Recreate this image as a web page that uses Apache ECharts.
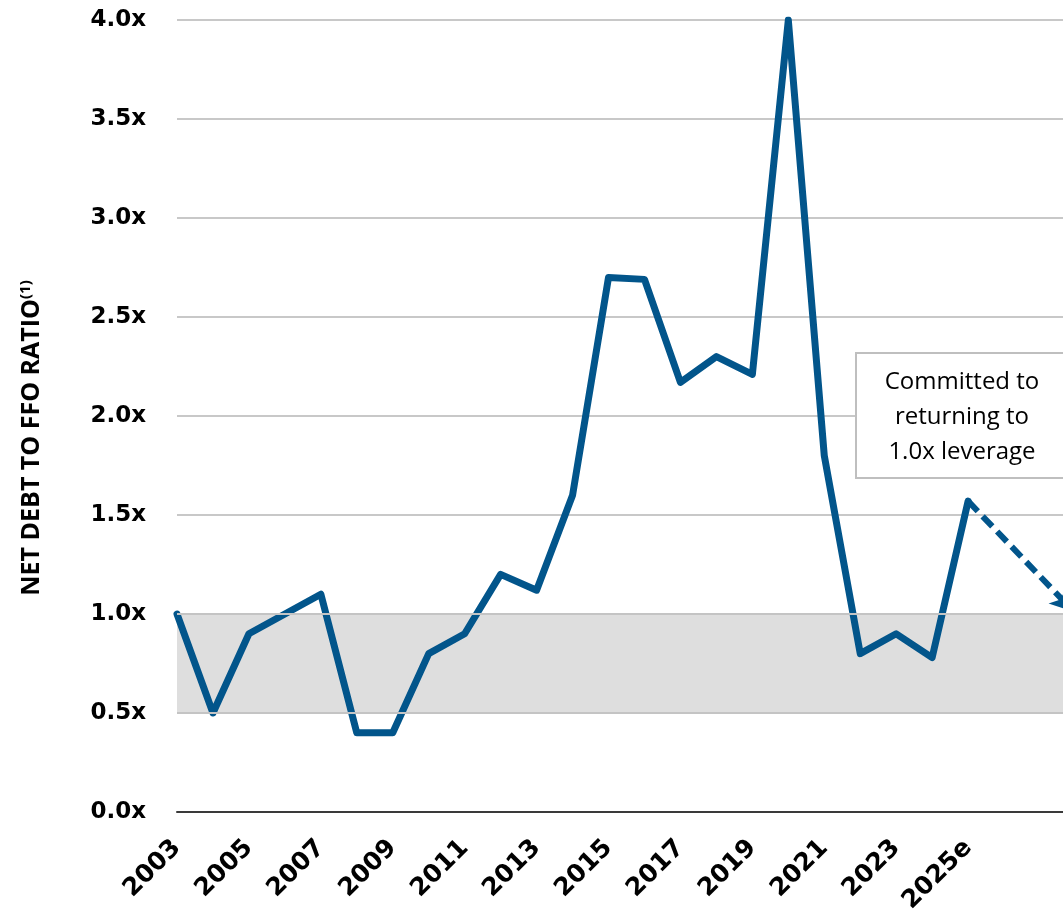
<!DOCTYPE html>
<html>
<head>
<meta charset="utf-8">
<script src="https://cdn.jsdelivr.net/npm/echarts@6/dist/echarts.min.js"></script>
<style>
  html, body { margin: 0; padding: 0; background: #fff; }
  #chart { width: 1063px; height: 910px; }
</style>
</head>
<body>
<div id="chart"></div>
<script>
// years on the x axis (the last three are the projection, unlabelled)
var years = ['2003', '2004', '2005', '2006', '2007', '2008', '2009', '2010', '2011', '2012',
  '2013', '2014', '2015', '2016', '2017', '2018', '2019', '2020', '2021', '2022',
  '2023', '2024', '2025e', '2026e', '2027e', '2028e'];
// net debt / FFO, actual + 2025e
var ratio = [1.0, 0.5, 0.9, 1.0, 1.1, 0.4, 0.4, 0.8, 0.9, 1.2,
  1.12, 1.6, 2.7, 2.69, 2.17, 2.3, 2.21, 4.0, 1.8, 0.8,
  0.9, 0.78, 1.57, null, null, null];
// dashed target path, 2025e -> 1.0x
var target = [null, null, null, null, null, null, null, null, null, null,
  null, null, null, null, null, null, null, null, null, null,
  null, null, 1.57, null, null, 1.0];
var yTicks = [0, 0.5, 1.0, 1.5, 2.0, 2.5, 3.0, 3.5, 4.0];
var band = [0.5, 1.0];
var lastLabelled = '2025e';

var blue = '#02558B';
var labelFont = 'DejaVu Sans';
var lastIdx = target.length - 1;

var chart = echarts.init(document.getElementById('chart'));

var option = {
  animation: false,
  grid: { left: 177, top: 20, height: 792, width: 899, containLabel: false, outerBoundsMode: 'none' },
  xAxis: {
    type: 'category',
    data: years,
    boundaryGap: false,
    axisLine: { lineStyle: { color: '#3a3a3a', width: 2 } },
    axisTick: { show: false },
    axisLabel: {
      rotate: 45,
      margin: 32,
      color: '#000',
      fontFamily: labelFont,
      fontWeight: 'bold',
      fontSize: 25,
      interval: function (idx) {
        return idx % 2 === 0 && idx <= years.indexOf(lastLabelled);
      }
    },
    splitLine: { show: false }
  },
  yAxis: {
    type: 'value',
    min: yTicks[0],
    max: yTicks[yTicks.length - 1],
    interval: 0.5,
    axisLine: { show: false },
    axisTick: { show: false },
    axisLabel: {
      margin: 31,
      color: '#000',
      fontFamily: labelFont,
      fontWeight: 'bold',
      fontSize: 23,
      formatter: function (v) { return v.toFixed(1) + 'x'; }
    },
    splitLine: { lineStyle: { color: '#c8c8c8', width: 2 } }
  },
  series: [
    {
      type: 'line',
      data: ratio,
      symbol: 'none',
      z: 3,
      lineStyle: { color: blue, width: 7, cap: 'round', join: 'round' },
      markArea: {
        silent: true,
        itemStyle: { color: '#dedede' },
        data: [[{ yAxis: band[0] }, { yAxis: band[1] }]]
      },
      markLine: {
        silent: true,
        symbol: 'none',
        label: { show: false },
        lineStyle: { color: '#c4c4c4', width: 2, type: 'solid' },
        data: band.map(function (b) { return { yAxis: b }; })
      }
    },
    {
      type: 'line',
      data: target,
      connectNulls: true,
      clip: false,
      showSymbol: true,
      showAllSymbol: true,
      symbol: function (v, p) { return p.dataIndex === lastIdx ? 'arrow' : 'none'; },
      symbolSize: [18, 24],
      symbolRotate: -135,
      symbolOffset: [-2, -2],
      z: 3,
      itemStyle: { color: blue },
      lineStyle: { color: blue, width: 6, type: [14, 7] }
    }
  ],
  graphic: [
    {
      type: 'text',
      x: 32,
      y: 438,
      rotation: Math.PI / 2,
      z: 100,
      style: {
        text: '{t|NET DEBT TO FFO RATIO}{s|(1)}',
        align: 'center',
        verticalAlign: 'middle',
        rich: {
          t: { fontFamily: 'Open Sans', fontWeight: 'bold', fontSize: 25, fill: '#000' },
          s: { fontFamily: 'Open Sans', fontWeight: 'bold', fontSize: 15, fill: '#000', verticalAlign: 'top', padding: [0, 0, 12, 0] }
        }
      }
    },
    {
      type: 'rect',
      z: 100,
      shape: { x: 856, y: 353, width: 230, height: 125 },
      style: { fill: '#fff', stroke: '#bfbfbf', lineWidth: 2 }
    },
    {
      type: 'text',
      z: 101,
      x: 962,
      y: 417,
      style: {
        text: 'Committed to\nreturning to\n1.0x leverage',
        align: 'center',
        verticalAlign: 'middle',
        fontFamily: 'Open Sans',
        fontSize: 24,
        lineHeight: 35,
        fill: '#000'
      }
    }
  ]
};

chart.setOption(option);
</script>
</body>
</html>
